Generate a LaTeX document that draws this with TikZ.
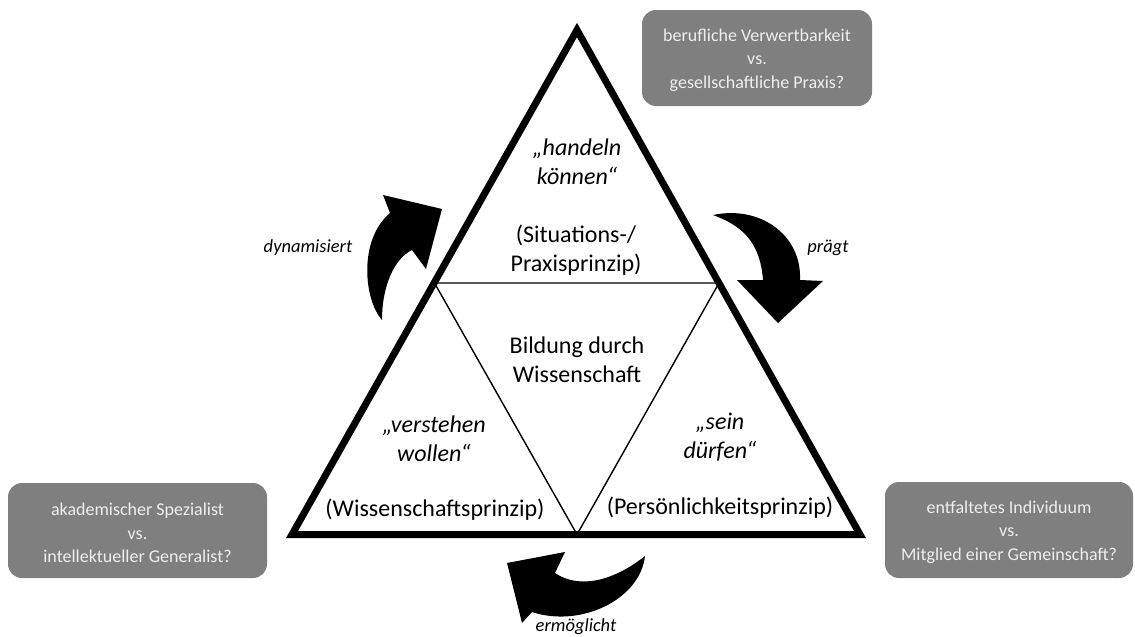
\documentclass[tikz,border=0pt]{standalone}
\usepackage{fontspec}
\setmainfont{Carlito}
\definecolor{boxgray}{RGB}{127,127,127}
\definecolor{boxtext}{RGB}{238,238,238}
\tikzset{
  maintext/.style={font=\fontsize{24}{29}\selectfont, align=center, inner sep=0pt},
  quotetext/.style={font=\fontsize{24}{29}\selectfont\itshape, align=center, inner sep=0pt},
  lbl/.style={font=\fontsize{18.5}{22}\selectfont\itshape, inner sep=0pt},
  qbox/.style={fill=boxgray, rounded corners=14pt, draw=none},
  qtext/.style={text=boxtext, inner sep=0pt, font=\fontsize{18}{23.5}\selectfont, align=center},
  outer/.style={line width=7pt, line join=miter},
  inner/.style={line width=1.4pt},
  blockarrow/.style={fill=black, draw=none}
}
\begin{document}
\begin{tikzpicture}[x=1pt, y=-1pt]
\useasboundingbox (0,0) rectangle (1135,637);

% outer triangle
\coordinate (A) at (577,30);
\coordinate (B) at (292,534.5);
\coordinate (C) at (860,534.5);
\coordinate (AB) at (434.5,283);
\coordinate (AC) at (719,283);
\coordinate (BC) at (577,534.5);
\draw[inner] (AB) -- (AC) -- (BC) -- cycle;
\draw[outer] (A) -- (B) -- (C) -- cycle;

% texts in the triangle
\node[quotetext] (handeln) at (577,162) {„handeln\\können“};
\node[maintext] (situation) at (576,250) {(Situations-/\\Praxisprinzip)};
\node[maintext] (bildung) at (577,360) {Bildung durch\\Wissenschaft};
\node[quotetext] (verstehen) at (434,439) {„verstehen\\wollen“};
\node[maintext] (wissprinzip) at (435,510) {(Wissenschaftsprinzip)};
\node[quotetext] (sein) at (720,437) {„sein\\dürfen“};
\node[maintext] (perprinzip) at (720,508) {(Persönlichkeitsprinzip)};

% question boxes
\fill[qbox] (642,10) rectangle (872,106);
\node[qtext] (qtop) at (757,60)
  {berufliche Verwertbarkeit\\vs.\\gesellschaftliche Praxis?};
\fill[qbox] (8,483) rectangle (267,578);
\node[qtext] (qleft) at (137.5,533)
  {akademischer Spezialist\\vs.\\intellektueller Generalist?};
\fill[qbox] (885,482) rectangle (1133,578);
\node[qtext] (qright) at (1009,532)
  {entfaltetes Individuum\\vs.\\Mitglied einer Gemeinschaft?};

% curved block arrows
% dynamisiert (left, pointing up-right)
\fill[blockarrow] (382,320) .. controls (364,300) and (358,240) .. (390,213)
  -- (383,195) -- (442,209) -- (426,269) -- (412,250)
  .. controls (395,258) and (382,285) .. cycle;
% praegt (right, pointing down)
\fill[blockarrow] (713,215) .. controls (760,205) and (802,235) .. (800,280)
  -- (823,281) -- (778,323) -- (737,280) -- (763,280)
  .. controls (760,240) and (740,225) .. cycle;
% ermoeglicht (bottom, pointing up-left)
\fill[blockarrow] (645,556) .. controls (640,600) and (580,628) .. (532,612)
  -- (522,623) -- (507,563) -- (565,552) -- (555,573)
  .. controls (580,590) and (615,580) .. cycle;

% arrow labels
\node[lbl] (ldyn) at (308,248) {dynamisiert};
\node[lbl] (lpraegt) at (828,248) {prägt};
\node[lbl] (lerm) at (576,627) {ermöglicht};
\end{tikzpicture}
\end{document}
